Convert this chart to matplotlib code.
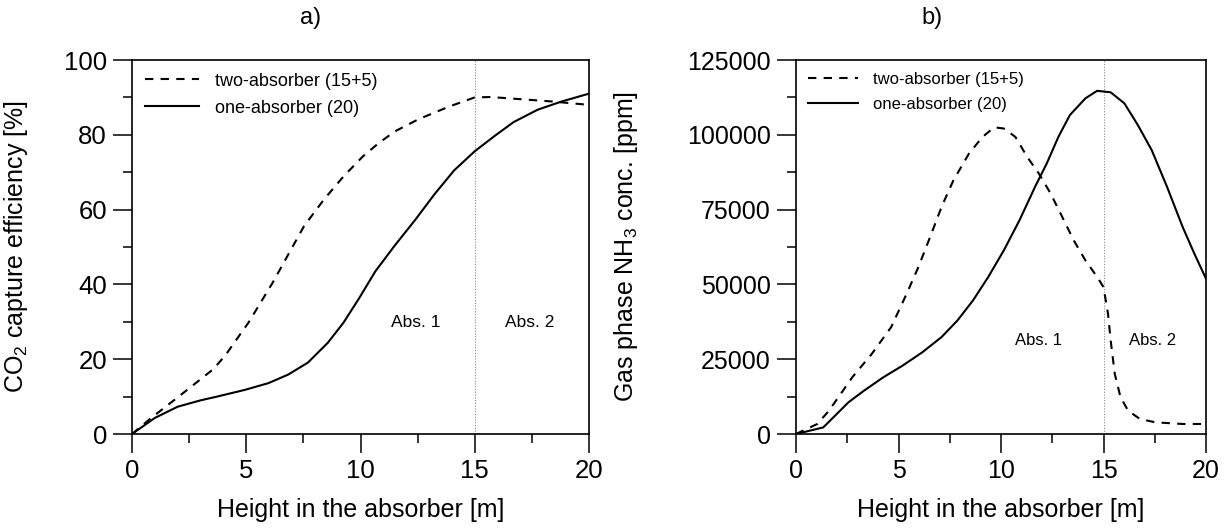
import matplotlib
matplotlib.use("Agg")
from matplotlib import pyplot as plt
from matplotlib.ticker import MultipleLocator

plt.rcParams['font.family'] = ['Liberation Sans', 'DejaVu Sans']
plt.rcParams['mathtext.fontset'] = 'custom'
plt.rcParams['mathtext.rm'] = 'Liberation Sans'
plt.rcParams['mathtext.it'] = 'Liberation Sans:italic'

# a) CO2 capture efficiency along the column height
h_two_a = [0, 0.78, 2.0, 3.55, 4.07, 5.1, 6.15, 7.53, 8.4, 9.26, 10.1, 10.8, 11.5,
           12.55, 13.9, 15.0, 15.7, 17.06, 18.4, 20.0]
eff_two = [0, 4.0, 9.8, 17.3, 20.9, 29.8, 40.4, 55.6, 62.7, 68.9, 74.2, 77.8, 80.9,
           84.2, 87.6, 90.0, 90.1, 89.5, 88.9, 88.0]
h_one_a = [0, 1.0, 2.0, 3.0, 3.72, 4.94, 5.97, 6.84, 7.7, 8.57, 9.26, 9.96, 10.65, 11.5,
           12.4, 13.25, 14.1, 15.0, 15.85, 16.7, 17.75, 18.8, 20.0]
eff_one = [0, 4.3, 7.3, 9.0, 10.0, 11.8, 13.6, 15.9, 19.1, 24.4, 29.8, 36.5, 43.5, 50.4,
           57.3, 64.2, 70.5, 75.6, 79.6, 83.4, 86.7, 88.9, 91.0]

# b) gas phase NH3 concentration
h_two_b = [0, 1.04, 1.61, 2.75, 3.7, 4.64, 5.4, 5.97, 6.54, 7.1, 7.68, 8.44, 9.1, 9.67,
           10.14, 10.7, 11.28, 11.85, 12.42, 12.99, 13.55, 14.12, 14.69, 15.0, 15.22,
           15.35, 15.55, 15.83, 16.2, 16.78, 17.54, 18.86, 20.0]
nh3_two = [0, 3350, 7800, 19000, 26800, 35700, 46900, 55800, 65800, 75900, 84800, 93750,
           99300, 102500, 102100, 99300, 92600, 87000, 80400, 72500, 64700, 58000, 52500,
           49100, 40200, 31250, 20100, 12300, 7800, 5000, 3900, 3350, 3350]
h_one_b = [0, 1.33, 1.99, 2.56, 3.32, 4.27, 5.21, 6.16, 7.1, 7.87, 8.63, 9.38, 10.14,
           10.9, 11.66, 12.23, 12.8, 13.36, 14.12, 14.69, 15.35, 16.02, 16.68, 17.35,
           18.1, 18.86, 19.43, 20.0]
nh3_one = [0, 2200, 6700, 10600, 14500, 19000, 22900, 27300, 32400, 37900, 44600, 52500,
           61400, 71400, 82600, 90400, 99300, 106600, 112200, 114700, 114200, 110500,
           103200, 94900, 82600, 69200, 60300, 51900]

W, H = 1228, 531
fig = plt.figure(figsize=(W / 100, H / 100), dpi=100)
ax1 = fig.add_axes([132 / W, 97 / H, 457 / W, 374 / H])
ax2 = fig.add_axes([796 / W, 97 / H, 410 / W, 374 / H])

dash = (0, (4, 3.5))


def style_axes(ax, fs):
    for sp in ax.spines.values():
        sp.set_linewidth(1.2)
    ax.tick_params(which='major', direction='out', length=14, width=1.1,
                   labelsize=fs, pad=4)
    ax.tick_params(which='minor', direction='out', length=6.5, width=1.1)
    ax.set_xlim(0, 20)
    ax.xaxis.set_major_locator(MultipleLocator(5))
    ax.xaxis.set_minor_locator(MultipleLocator(2.5))
    ax.axvline(15, color='#888888', lw=0.8, ls=(0, (1, 1.5)), zorder=1)
    ax.set_xlabel('Height in the absorber [m]', fontsize=18, labelpad=11)


ax1.plot(h_two_a, eff_two, color='black', lw=1.5, ls=dash, label='two-absorber (15+5)')
ax1.plot(h_one_a, eff_one, color='black', lw=1.5, label='one-absorber (20)')
ax1.set_ylim(0, 100)
ax1.yaxis.set_major_locator(MultipleLocator(20))
ax1.yaxis.set_minor_locator(MultipleLocator(10))
style_axes(ax1, 18.5)
ax1.set_ylabel('CO$_2$ capture efficiency [%]', fontsize=18)
ax1.yaxis.set_label_coords(-102 / 457, 0.5)
ax1.text(12.4, 29.8, 'Abs. 1', fontsize=12.5, ha='center', va='center')
ax1.text(17.4, 29.8, 'Abs. 2', fontsize=12.5, ha='center', va='center')

ax2.plot(h_two_b, nh3_two, color='black', lw=1.5, ls=dash, label='two-absorber (15+5)')
ax2.plot(h_one_b, nh3_one, color='black', lw=1.5, label='one-absorber (20)')
ax2.set_ylim(0, 125000)
ax2.yaxis.set_major_locator(MultipleLocator(25000))
ax2.yaxis.set_minor_locator(MultipleLocator(12500))
style_axes(ax2, 18)
ax2.set_ylabel('Gas phase NH$_3$ conc. [ppm]', fontsize=18)
ax2.yaxis.set_label_coords(-156 / 410, 0.5)
ax2.text(11.85, 31250, 'Abs. 1', fontsize=12, ha='center', va='center')
ax2.text(17.4, 31250, 'Abs. 2', fontsize=12, ha='center', va='center')

ax1.legend(loc='upper left', frameon=False, fontsize=13, handlelength=3.0,
           handletextpad=0.9, labelspacing=0.55, borderaxespad=0.3)
ax2.legend(loc='upper left', frameon=False, fontsize=12, handlelength=3.0,
           handletextpad=0.9, labelspacing=0.6, borderaxespad=0.3)

fig.text(311 / W, 1 - 18 / H, 'a)', fontsize=17, ha='center', va='center')
fig.text(932 / W, 1 - 18 / H, 'b)', fontsize=17, ha='center', va='center')

fig.savefig('out.png', dpi=100)
